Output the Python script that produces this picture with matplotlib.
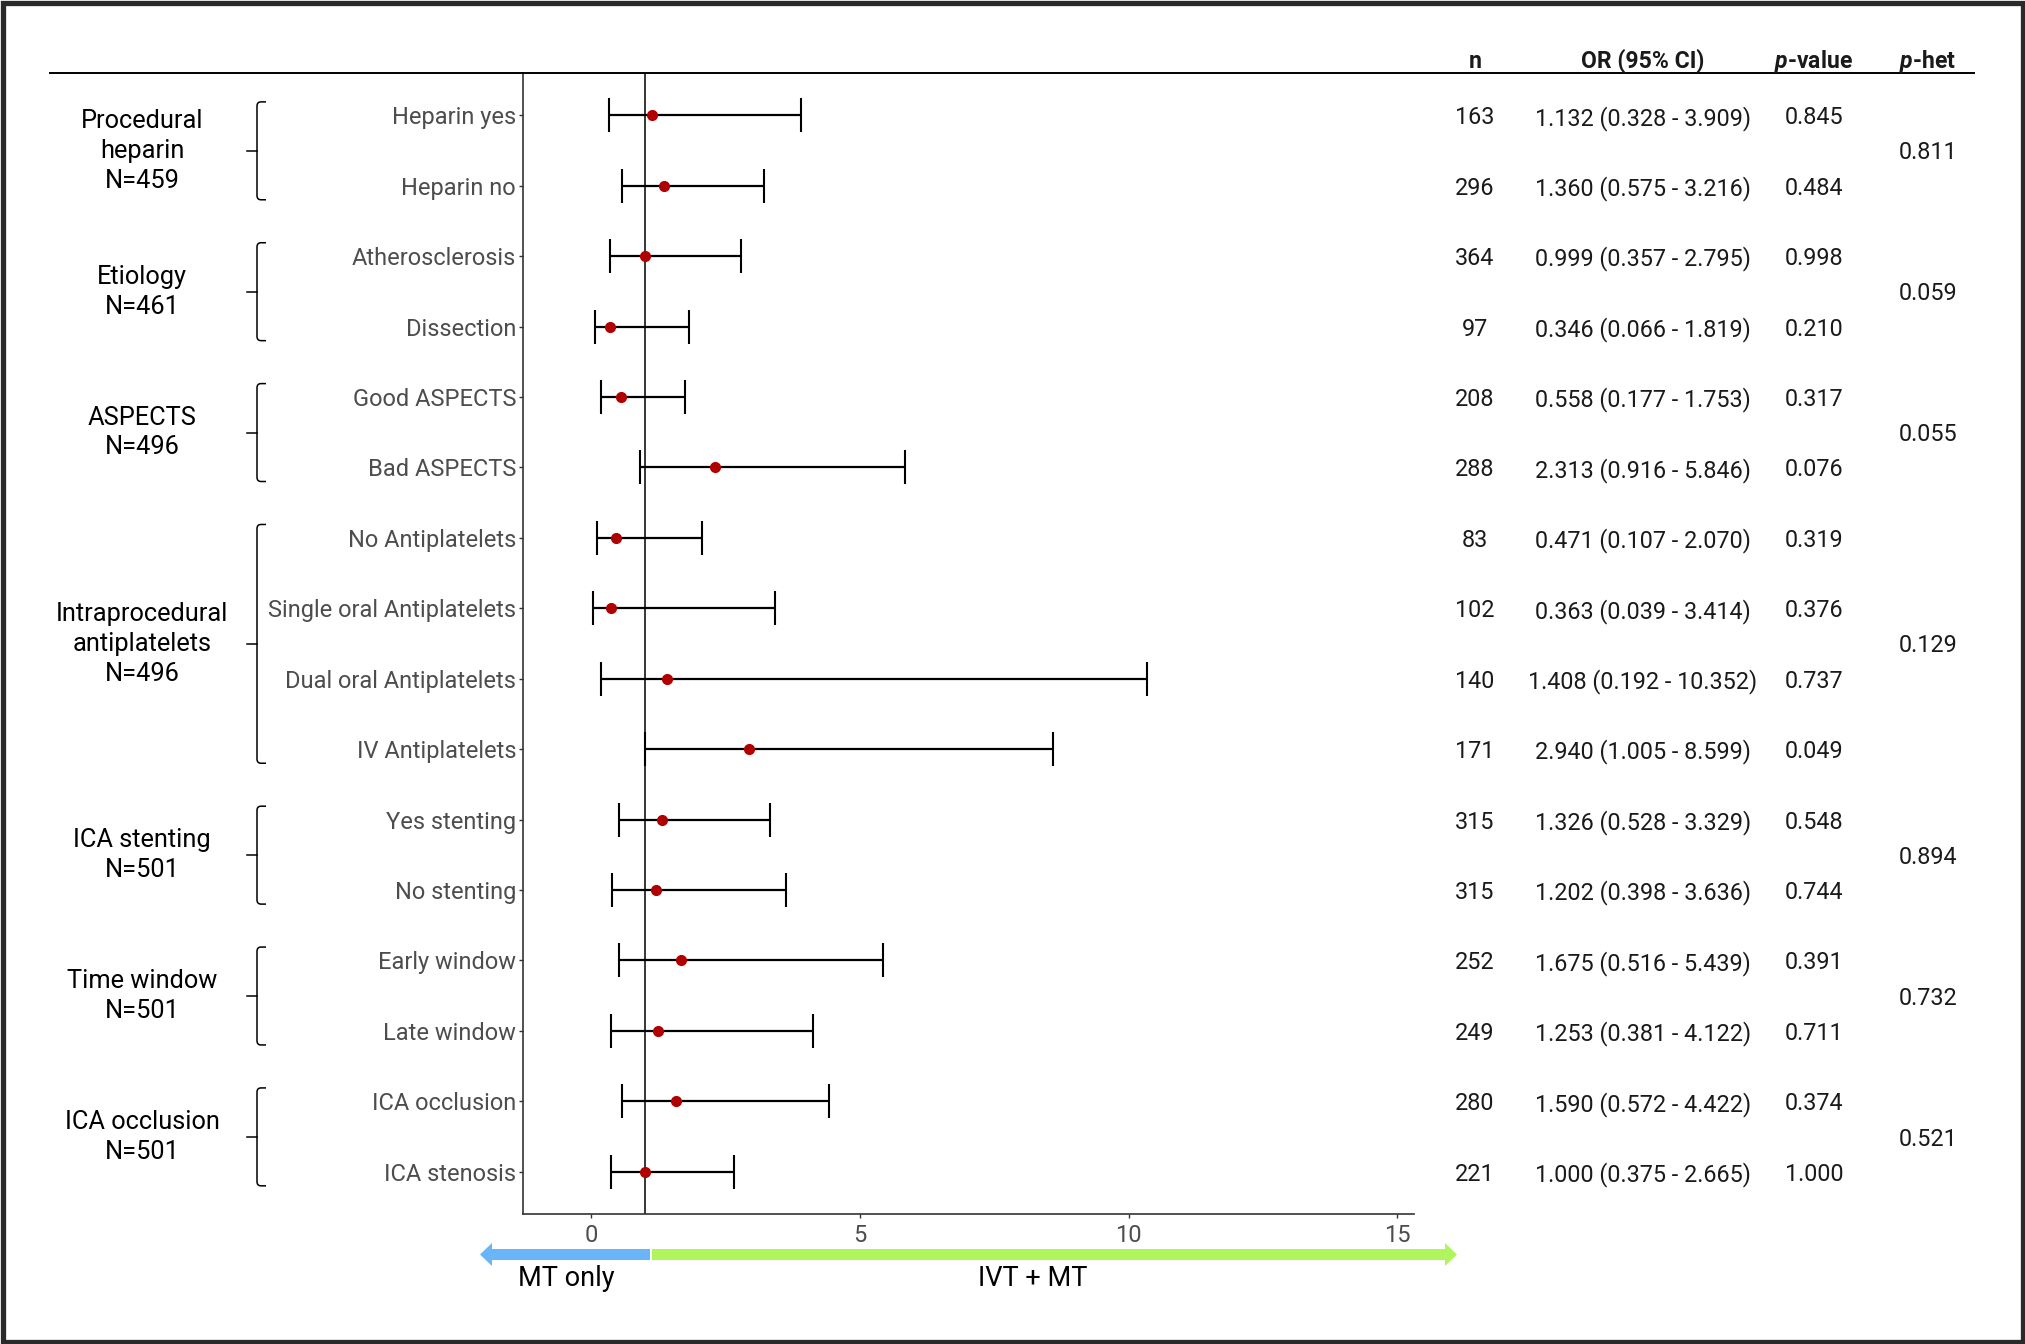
import matplotlib
matplotlib.use('Agg')
import matplotlib.pyplot as plt
import matplotlib.transforms as mtransforms
from matplotlib.lines import Line2D
from matplotlib.patches import Polygon, Rectangle, PathPatch
from matplotlib.path import Path
import numpy as np

plt.rcParams['font.family'] = ['Roboto', 'DejaVu Sans']
plt.rcParams['mathtext.fontset'] = 'custom'
plt.rcParams['mathtext.it'] = 'Roboto:italic:bold'
plt.rcParams['mathtext.rm'] = 'Roboto:bold'

# ---------------- data ----------------
subgroups = ["Heparin yes", "Heparin no", "Atherosclerosis", "Dissection",
             "Good ASPECTS", "Bad ASPECTS", "No Antiplatelets",
             "Single oral Antiplatelets", "Dual oral Antiplatelets",
             "IV Antiplatelets", "Yes stenting", "No stenting",
             "Early window", "Late window", "ICA occlusion", "ICA stenosis"]
n_vals = [163, 296, 364, 97, 208, 288, 83, 102, 140, 171, 315, 315, 252, 249, 280, 221]
or_vals = [1.132, 1.360, 0.999, 0.346, 0.558, 2.313, 0.471, 0.363, 1.408, 2.940,
           1.326, 1.202, 1.675, 1.253, 1.590, 1.000]
ci_low = [0.328, 0.575, 0.357, 0.066, 0.177, 0.916, 0.107, 0.039, 0.192, 1.005,
          0.528, 0.398, 0.516, 0.381, 0.572, 0.375]
ci_high = [3.909, 3.216, 2.795, 1.819, 1.753, 5.846, 2.070, 3.414, 10.352, 8.599,
           3.329, 3.636, 5.439, 4.122, 4.422, 2.665]
p_vals = [0.845, 0.484, 0.998, 0.210, 0.317, 0.076, 0.319, 0.376, 0.737, 0.049,
          0.548, 0.744, 0.391, 0.711, 0.374, 1.000]
group_labels = ["Procedural\nheparin\nN=459", "Etiology\nN=461", "ASPECTS\nN=496",
                "Intraprocedural\nantiplatelets\nN=496", "ICA stenting\nN=501",
                "Time window\nN=501", "ICA occlusion\nN=501"]
group_sizes = [2, 2, 2, 4, 2, 2, 2]
p_het = [0.811, 0.059, 0.055, 0.129, 0.894, 0.732, 0.521]
x_ticks = [0, 5, 10, 15]
headers = ["n", "OR (95% CI)", r"$\it{p}$-value", r"$\it{p}$-het"]

# ---------------- layout ----------------
W, H = 2025, 1344
fig = plt.figure(figsize=(W / 100, H / 100), dpi=100)
def fx(px): return px / W
def fy(py): return 1 - py / H

ax = fig.add_axes([fx(523), fy(1214), (1414 - 523) / W, (1214 - 73) / H])
rows = np.arange(1, len(subgroups) + 1)
ax.set_ylim(len(subgroups) + 0.6, 0.4)
ax.set_xlim(-1.265, 15.31)

ax.axvline(1, color='black', lw=1.1, zorder=1)
or_arr = np.array(or_vals)
xerr = [or_arr - np.array(ci_low), np.array(ci_high) - or_arr]
ax.errorbar(or_arr, rows, xerr=xerr, fmt='none', ecolor='black',
            elinewidth=1.6, capsize=12.5, capthick=1.5, zorder=2)
ax.plot(or_arr, rows, 'o', color='#B00000', ms=7, zorder=3)

ax.set_yticks(rows)
ax.set_yticklabels(subgroups)
ax.set_xticks(x_ticks)
ax.tick_params(axis='y', length=3, width=1, color='#333333', labelcolor='#4D4D4D',
               labelsize=17, pad=2)
ax.tick_params(axis='x', length=3, width=1, color='#333333', labelcolor='#4D4D4D',
               labelsize=17, pad=4)
for s in ['top', 'right']:
    ax.spines[s].set_visible(False)
for s in ['left', 'bottom']:
    ax.spines[s].set_color('#333333')
    ax.spines[s].set_linewidth(1.2)

# header line
fig.add_artist(Line2D([fx(50), fx(1974)], [fy(73), fy(73)], color='black', lw=1.4))

# headers
col_x = [1475, 1643, 1814, 1927]
for cx, h in zip(col_x, headers):
    fig.text(fx(cx), fy(68), h, ha='center', va='baseline', fontsize=16.6,
             fontweight='bold', color='#1a1a1a')

bt = mtransforms.blended_transform_factory(fig.transFigure, ax.transData)

# table values
for r, n, o, lo, hi, p in zip(rows, n_vals, or_vals, ci_low, ci_high, p_vals):
    kw = dict(transform=bt, ha='center', va='center_baseline', fontsize=16.8, color='#1a1a1a')
    fig.text(fx(col_x[0]), r, f"{n}", **kw)
    fig.text(fx(col_x[1]), r, f"{o:.3f} ({lo:.3f} - {hi:.3f})", **kw)
    fig.text(fx(col_x[2]), r, f"{p:.3f}", **kw)

# groups: brackets, labels, p-het
start = 1
for lab, size, ph in zip(group_labels, group_sizes, p_het):
    first, last = start, start + size - 1
    top, bot = first - 0.19, last + 0.2
    mid = (top + bot) / 2
    fig.text(fx(1928), (first + last) / 2, f"{ph:.3f}", transform=bt, ha='center',
             va='center_baseline', fontsize=16.8, color='#1a1a1a')
    fig.text(fx(142), mid, lab, transform=bt, ha='center', va='center', fontsize=18.3,
             color='black', linespacing=1.3)
    xv, xh, xn = fx(257), fx(266), fx(247)
    r = 0.06
    c = fx(4)
    verts = [(xh, top), (xv + c, top), (xv, top), (xv, top + r),
             (xv, bot - r), (xv, bot), (xv + c, bot), (xh, bot)]
    codes = [Path.MOVETO, Path.LINETO, Path.CURVE3, Path.CURVE3,
             Path.LINETO, Path.CURVE3, Path.CURVE3, Path.LINETO]
    fig.add_artist(PathPatch(Path(verts, codes), transform=bt, fill=False,
                             edgecolor='black', lw=1.1))
    fig.add_artist(Line2D([xn, xv], [mid, mid], transform=bt, color='black', lw=1.1))
    start += size

# direction arrows
yc, hb, hh = 1254.5, 5.5, 11.5
blue = [(480, yc), (492, yc - hh), (492, yc - hb), (650, yc - hb),
        (650, yc + hb), (492, yc + hb), (492, yc + hh)]
green = [(652, yc - hb), (1445, yc - hb), (1445, yc - hh), (1457, yc),
         (1445, yc + hh), (1445, yc + hb), (652, yc + hb)]
fig.add_artist(Polygon([(fx(a), fy(b)) for a, b in blue], closed=True,
                       transform=fig.transFigure, facecolor='#6AB4F8', edgecolor='none'))
fig.add_artist(Polygon([(fx(a), fy(b)) for a, b in green], closed=True,
                       transform=fig.transFigure, facecolor='#AEF65C', edgecolor='none'))
fig.text(fx(566), fy(1286), "MT only", ha='center', va='baseline', fontsize=19.5, color='black')
fig.text(fx(1033), fy(1286), "IVT + MT", ha='center', va='baseline', fontsize=19.5, color='black')

# outer frame
fig.add_artist(Rectangle((fx(2.5), fy(1341.5)), fx(2020), 1 - 5 / H, transform=fig.transFigure,
                         fill=False, edgecolor='#2a2a2a', lw=3.8))

fig.savefig('out.png', dpi=100)
